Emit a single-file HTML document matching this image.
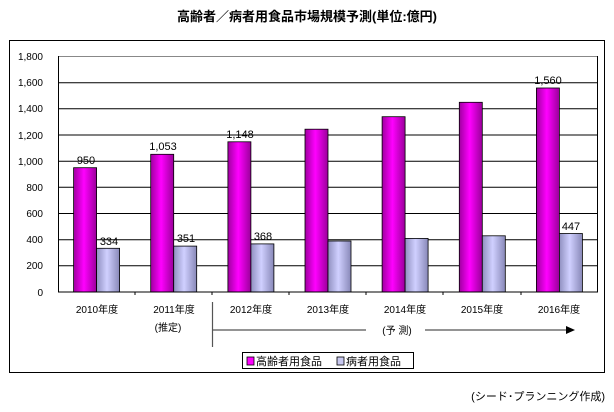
<!DOCTYPE html>
<html><head><meta charset="utf-8"><style>
body{margin:0;background:#fff}
svg text{font-family:"Liberation Sans","Noto Sans CJK JP",sans-serif}
</style></head><body>
<svg width="614" height="407" viewBox="0 0 614 407" xmlns="http://www.w3.org/2000/svg">
<defs>
<linearGradient id="m" x1="0" x2="1"><stop offset="0" stop-color="#a000a0"/><stop offset="0.45" stop-color="#ff00ff"/><stop offset="1" stop-color="#9a009a"/></linearGradient>
<linearGradient id="b" x1="0" x2="1"><stop offset="0" stop-color="#9090c0"/><stop offset="0.45" stop-color="#d0d0ff"/><stop offset="1" stop-color="#8888b8"/></linearGradient>
</defs>
<text x="307" y="21" text-anchor="middle" font-size="13" font-weight="bold">高齢者／病者用食品市場規模予測(単位:億円)</text>
<rect x="9.5" y="40.5" width="595" height="332" fill="none" stroke="#000" stroke-width="1"/>
<g stroke="#000" stroke-width="1">
<line x1="58" y1="56.5" x2="598" y2="56.5" stroke="#888"/>
<line x1="58" y1="82.7" x2="598" y2="82.7"/>
<line x1="58" y1="108.8" x2="598" y2="108.8"/>
<line x1="58" y1="135" x2="598" y2="135"/>
<line x1="58" y1="161.2" x2="598" y2="161.2"/>
<line x1="58" y1="187.3" x2="598" y2="187.3"/>
<line x1="58" y1="213.5" x2="598" y2="213.5"/>
<line x1="58" y1="239.7" x2="598" y2="239.7"/>
<line x1="58" y1="265.8" x2="598" y2="265.8"/>
<line x1="58.5" y1="56" x2="58.5" y2="292"/>
<line x1="597.5" y1="56" x2="597.5" y2="292"/>
</g>
<g font-size="10" text-anchor="end">
<text x="43" y="60">1,800</text><text x="43" y="86">1,600</text><text x="43" y="112">1,400</text>
<text x="43" y="139">1,200</text><text x="43" y="165">1,000</text><text x="43" y="191">800</text>
<text x="43" y="217">600</text><text x="43" y="243">400</text><text x="43" y="269">200</text><text x="43" y="296">0</text>
</g>
<g stroke="#000" stroke-width="0.8">
<rect x="73.6" y="167.7" width="23" height="124.3" fill="url(#m)"/>
<rect x="96.6" y="248.3" width="23" height="43.7" fill="url(#b)"/>
<rect x="150.7" y="154.3" width="23" height="137.7" fill="url(#m)"/>
<rect x="173.7" y="246.1" width="23" height="45.9" fill="url(#b)"/>
<rect x="227.9" y="141.8" width="23" height="150.2" fill="url(#m)"/>
<rect x="250.9" y="243.9" width="23" height="48.1" fill="url(#b)"/>
<rect x="305" y="129.2" width="23" height="162.8" fill="url(#m)"/>
<rect x="328" y="241" width="23" height="51" fill="url(#b)"/>
<rect x="382.1" y="116.7" width="23" height="175.3" fill="url(#m)"/>
<rect x="405.1" y="238.4" width="23" height="53.6" fill="url(#b)"/>
<rect x="459.3" y="102.3" width="23" height="189.7" fill="url(#m)"/>
<rect x="482.3" y="235.8" width="23" height="56.2" fill="url(#b)"/>
<rect x="536.4" y="88" width="23" height="204" fill="url(#m)"/>
<rect x="559.4" y="233.5" width="23" height="58.5" fill="url(#b)"/>
</g>
<line x1="58" y1="292" x2="598" y2="292" stroke="#000"/>
<g stroke="#000"><line x1="135" y1="292" x2="135" y2="295"/><line x1="212" y1="292" x2="212" y2="295"/><line x1="289" y1="292" x2="289" y2="295"/><line x1="366" y1="292" x2="366" y2="295"/><line x1="443" y1="292" x2="443" y2="295"/><line x1="521" y1="292" x2="521" y2="295"/></g>
<g font-size="11" text-anchor="middle">
<text x="86" y="164">950</text><text x="109" y="245">334</text>
<text x="163" y="150">1,053</text><text x="186" y="242">351</text>
<text x="240" y="138">1,148</text><text x="263" y="240">368</text>
<text x="548" y="84">1,560</text><text x="571" y="230">447</text>
</g>
<g font-size="10" text-anchor="middle">
<text x="97" y="313">2010年度</text><text x="174" y="313">2011年度</text><text x="251" y="313">2012年度</text>
<text x="328" y="313">2013年度</text><text x="405" y="313">2014年度</text><text x="482" y="313">2015年度</text><text x="559" y="313">2016年度</text>
<text x="168" y="331">(推定)</text>
<text x="397" y="334">(予 測)</text>
</g>
<line x1="212.5" y1="302" x2="212.5" y2="347" stroke="#555" stroke-width="1.2"/>
<line x1="212" y1="330" x2="366" y2="330" stroke="#555" stroke-width="1.2"/>
<line x1="425" y1="330" x2="568" y2="330" stroke="#555" stroke-width="1.2"/>
<polygon points="566,326 575,330 566,334" fill="#000"/>
<rect x="242.5" y="352.5" width="171" height="16" fill="#fff" stroke="#000"/>
<rect x="247" y="357" width="7" height="8" fill="#f0f" stroke="#000" stroke-width="0.8"/>
<text x="256" y="365" font-size="11">高齢者用食品</text>
<rect x="337" y="357" width="7" height="8" fill="#c8c8f0" stroke="#000" stroke-width="0.8"/>
<text x="346" y="365" font-size="11">病者用食品</text>
<text x="605" y="400" font-size="11" text-anchor="end">(シード･プランニング作成)</text>
</svg>
</body></html>
